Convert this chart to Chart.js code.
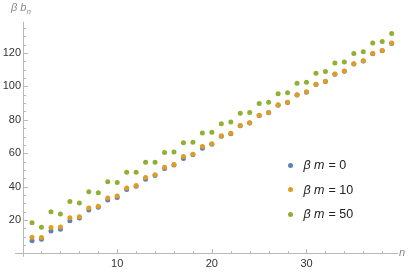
<!doctype html>
<html lang="en">
<head>
<meta charset="utf-8">
<title>beta b_n</title>
<script src="https://cdn.jsdelivr.net/npm/chart.js@4.4.1/dist/chart.umd.min.js"></script>
<style>
  * { margin: 0; padding: 0; box-sizing: border-box; }
  html, body { background: #fff; }
  .wrapper { position: relative; width: 415px; height: 272px; font-family: "Liberation Sans", Arial, sans-serif; }
  #canvas { display: block; }
  .ylab { position: absolute; left: 11px; top: 1px; font-size: 11px; font-style: italic; color: #8a8a8a; }
  .ylab sub { font-size: 8px; }
  .xlab { position: absolute; left: 399px; top: 246px; font-size: 11px; font-style: italic; color: #8a8a8a; }
  .legend { position: absolute; left: 286px; top: 153px; font-size: 12.5px; color: #222; }
  .legend div { display: flex; align-items: center; height: 24.5px; }
  .legend span.dot { display: inline-block; width: 5px; height: 5px; border-radius: 50%; margin-left: 1.5px; margin-right: 11px; }
  .legend i { margin-right: 4px; }
</style>
</head>
<body>
<div class="wrapper">
  <canvas id="canvas" width="415" height="272"></canvas>
  <div class="ylab">β b<sub>n</sub></div>
  <div class="xlab">n</div>
  <div class="legend" id="legend"></div>
</div>

<script>
var nValues = [1, 2, 3, 4, 5, 6, 7, 8, 9, 10, 11, 12, 13, 14, 15, 16, 17, 18, 19, 20,
  21, 22, 23, 24, 25, 26, 27, 28, 29, 30, 31, 32, 33, 34, 35, 36, 37, 38, 39];

var seriesLabels = ['0', '10', '50'];

var bm0 = [7.5, 8.5, 13.4, 14.5, 19.6, 21.2, 26.0, 27.6, 31.9, 33.5, 38.2, 40.2, 44.4, 46.7,
  50.8, 52.9, 56.9, 59.1, 63.0, 65.4, 70.2, 71.7, 76.4, 78.1, 82.6, 84.2, 88.8, 90.4, 94.9,
  96.6, 101.1, 102.9, 107.3, 109.1, 113.4, 115.2, 119.6, 121.4, 125.8];

var bm10 = [9.7, 9.5, 15.5, 15.8, 21.4, 22.0, 27.2, 28.3, 33.1, 34.3, 39.2, 40.7, 45.5, 47.1,
  51.6, 53.2, 58.0, 59.4, 64.1, 65.6, 70.4, 71.9, 76.6, 78.3, 82.8, 84.4, 89.0, 90.6, 95.1,
  96.8, 101.3, 103.1, 107.5, 109.3, 113.6, 115.4, 119.8, 121.6, 126.0];

var bm50 = [18.4, 15.6, 25.0, 23.6, 31.1, 30.1, 36.9, 36.3, 42.9, 42.4, 48.6, 48.6, 54.6, 54.6,
  60.4, 60.8, 66.2, 66.5, 72.1, 72.5, 77.7, 78.7, 84.0, 84.4, 89.8, 90.6, 95.7, 96.3, 101.9,
  102.5, 107.9, 108.9, 114.0, 114.6, 119.8, 120.8, 126.0, 127.0, 131.7];

var xTickLabels = [10, 20, 30];
var yTickLabels = [20, 40, 60, 80, 100, 120];

var colors = ['#5e81b5', '#e19c24', '#8fb032'];

function toPoints(ys) {
  return nValues.map((n, i) => ({ x: n, y: ys[i] }));
}

// mathematica style axes: crossing at origin, ticks pointing inward
var mmaAxes = {
  id: 'mmaAxes',
  beforeDatasetsDraw(chart) {
    var ctx = chart.ctx;
    var x = chart.scales.x, y = chart.scales.y;
    var x0 = Math.round(x.getPixelForValue(0)) + 0.5;
    var y0 = Math.round(y.getPixelForValue(0)) + 0.5;
    ctx.save();
    ctx.strokeStyle = '#b8b8b8';
    ctx.lineWidth = 1;
    ctx.beginPath();
    ctx.moveTo(x.left, y0); ctx.lineTo(x.right, y0);
    ctx.moveTo(x0, y.top); ctx.lineTo(x0, y.bottom);
    for (var v = 2; v < x.max; v += 2) {
      var px = Math.round(x.getPixelForValue(v)) + 0.5;
      var len = xTickLabels.includes(v) ? 4.5 : 2.5;
      ctx.moveTo(px, y0); ctx.lineTo(px, y0 - len);
    }
    for (var w = 5; w < y.max; w += 5) {
      var py = Math.round(y.getPixelForValue(w)) + 0.5;
      var l2 = yTickLabels.includes(w) ? 4.5 : 2.5;
      ctx.moveTo(x0, py); ctx.lineTo(x0 + l2, py);
    }
    ctx.stroke();

    ctx.fillStyle = '#333';
    ctx.font = '11px "Liberation Sans", Arial, sans-serif';
    ctx.textAlign = 'center';
    ctx.textBaseline = 'top';
    xTickLabels.forEach(t => ctx.fillText(String(t), x.getPixelForValue(t), y0 + 5));
    ctx.textAlign = 'right';
    ctx.textBaseline = 'middle';
    yTickLabels.forEach(t => ctx.fillText(String(t), x0 - 2.5, y.getPixelForValue(t)));
    ctx.restore();
  }
};

var canvas = document.getElementById('canvas');
var ctx = canvas.getContext('2d');

var myChart = new Chart(ctx, {
  type: 'scatter',
  data: {
    datasets: [
      { label: 'βm = 0', data: toPoints(bm0), backgroundColor: colors[0], order: 3 },
      { label: 'βm = 10', data: toPoints(bm10), backgroundColor: colors[1], order: 2 },
      { label: 'βm = 50', data: toPoints(bm50), backgroundColor: colors[2], order: 1 }
    ]
  },
  options: {
    responsive: false,
    animation: false,
    devicePixelRatio: 1,
    layout: { padding: { left: 15, right: 16.7, top: 21.7, bottom: 15.3 } },
    elements: { point: { radius: 2.5, borderWidth: 0, hoverRadius: 2.5 } },
    clip: false,
    scales: {
      x: { type: 'linear', min: -0.8, max: 39.7, display: false },
      y: { type: 'linear', min: -2, max: 138.8, display: false }
    },
    plugins: { legend: { display: false }, tooltip: { enabled: false } }
  },
  plugins: [mmaAxes]
});

// legend as html so beta and m can be italic
var legend = document.getElementById('legend');
seriesLabels.forEach((s, i) => {
  var row = document.createElement('div');
  row.innerHTML = '<span class="dot" style="background:' + colors[i] + '"></span><i>β m</i>= ' + s;
  legend.appendChild(row);
});
</script>
</body>
</html>
